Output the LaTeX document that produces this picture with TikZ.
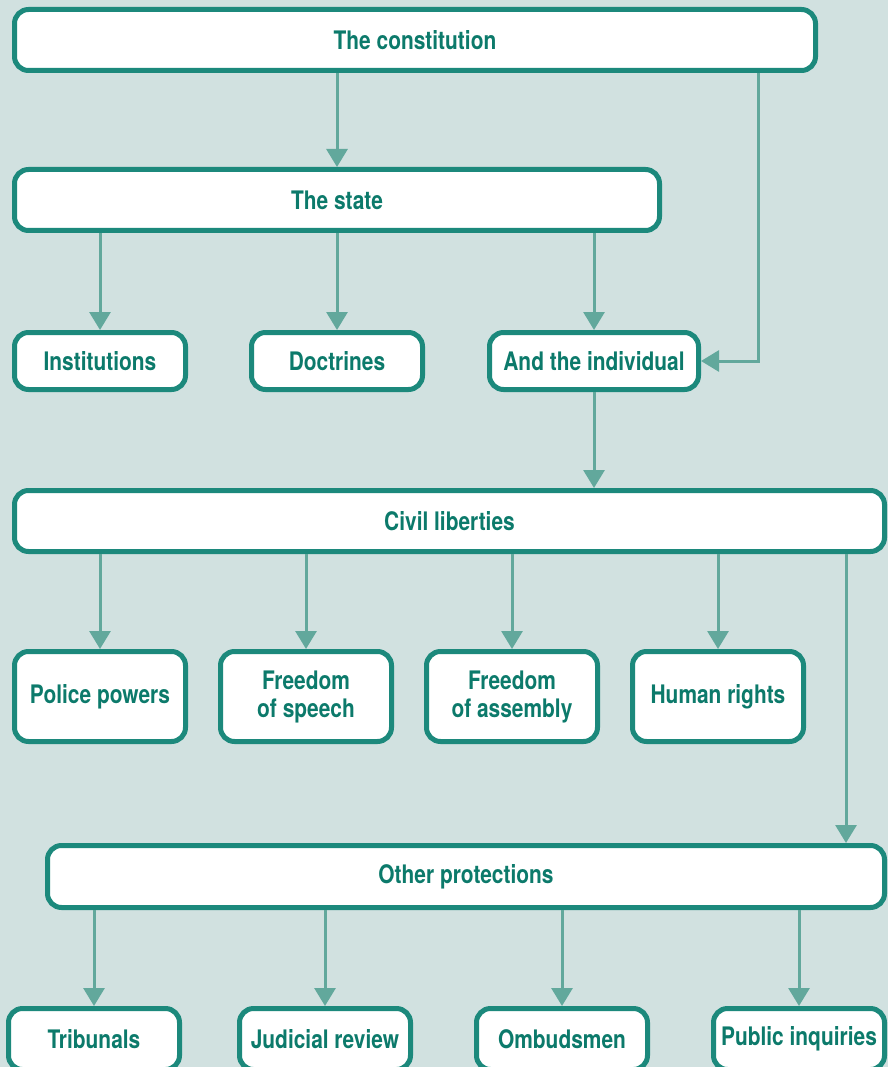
\documentclass[tikz,border=0pt]{standalone}
\usepackage{fontspec}
\setmainfont{TeX Gyre Heros}[FakeStretch=0.82]
\usetikzlibrary{arrows.meta}
\definecolor{bgc}{HTML}{D1E1E0}
\definecolor{boxc}{HTML}{1C897C}
\definecolor{txtc}{HTML}{0C7A6B}
\definecolor{arrc}{HTML}{62A89C}
\tikzset{
  box/.style={draw=boxc, fill=white, line width=5pt, rounded corners=14pt,
    inner sep=0pt, align=center, text=txtc,
    font=\fontsize{25.5}{28}\selectfont\bfseries},
  arr/.style={draw=arrc, line width=3pt,
    -{Triangle[width=21pt,length=18pt]}},
}
\begin{document}
\begin{tikzpicture}[x=1pt,y=-1pt]
\fill[bgc] (0,0) rectangle (888,1067);
\useasboundingbox (0,0) rectangle (888,1067);
\clip (0,0) rectangle (888,1067);

% top levels
\node[box, minimum width=801pt, minimum height=61pt] (constitution) at (415,40) {The constitution};
\node[box, minimum width=645pt, minimum height=61pt] (state) at (337,200) {The state};

% aspects of the state
\node[box, minimum width=171pt, minimum height=57pt] (institutions) at (100,361) {Institutions};
\node[box, minimum width=171pt, minimum height=57pt] (doctrines) at (337,361) {Doctrines};
\node[box, minimum width=209pt, minimum height=57pt] (individual) at (594,361) {And the individual};

% civil liberties
\node[box, minimum width=870pt, minimum height=61pt] (civil) at (449.5,521) {Civil liberties};
\node[box, minimum width=171pt, minimum height=90pt] (police) at (100,696.5) {Police powers};
\node[box, minimum width=171pt, minimum height=90pt] (speech) at (306,696.5) {Freedom\\of speech};
\node[box, minimum width=171pt, minimum height=90pt] (assembly) at (512,696.5) {Freedom\\of assembly};
\node[box, minimum width=171pt, minimum height=90pt] (rights) at (718,696.5) {Human rights};

% other protections
\node[box, minimum width=837pt, minimum height=62pt] (other) at (466,876.5) {Other protections};
\node[box, minimum width=171pt, minimum height=61pt] (tribunals) at (94,1039) {Tribunals};
\node[box, minimum width=171pt, minimum height=61pt] (judicial) at (325,1039) {Judicial review};
\node[box, minimum width=171pt, minimum height=61pt] (ombudsmen) at (562,1039) {Ombudsmen};
\node[box, minimum width=171pt, minimum height=61pt] (inquiries) at (799,1039) {Public inquiries};

% routing points for the side connectors
\coordinate (sideA) at (758,0);
\coordinate (sideB) at (846,0);

% connectors
\draw[arr] (state.north |- constitution.south) -- (state.north);
\draw[arr] (constitution.south -| sideA) |- (individual.east);

\draw[arr] (institutions.north |- state.south) -- (institutions.north);
\draw[arr] (doctrines.north |- state.south) -- (doctrines.north);
\draw[arr] (individual.north |- state.south) -- (individual.north);

\draw[arr] (individual.south) -- (individual.south |- civil.north);

\draw[arr] (police.north |- civil.south) -- (police.north);
\draw[arr] (speech.north |- civil.south) -- (speech.north);
\draw[arr] (assembly.north |- civil.south) -- (assembly.north);
\draw[arr] (rights.north |- civil.south) -- (rights.north);
\draw[arr] (civil.south -| sideB) -- (other.north -| sideB);

\draw[arr] (tribunals.north |- other.south) -- (tribunals.north);
\draw[arr] (judicial.north |- other.south) -- (judicial.north);
\draw[arr] (ombudsmen.north |- other.south) -- (ombudsmen.north);
\draw[arr] (inquiries.north |- other.south) -- (inquiries.north);
\end{tikzpicture}
\end{document}
